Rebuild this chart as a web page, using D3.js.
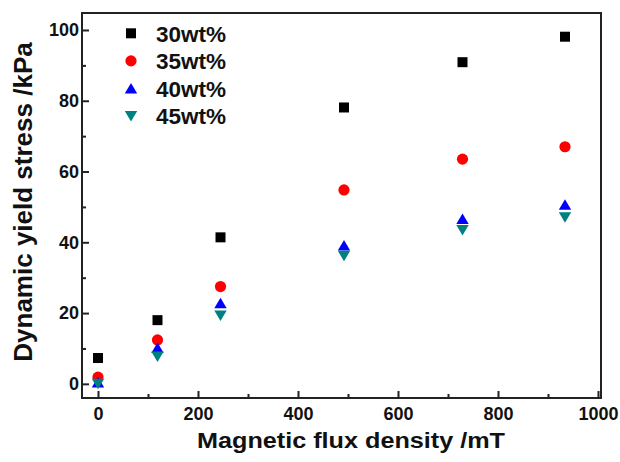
<!DOCTYPE html>
<html>
<head>
<meta charset="utf-8">
<script src="https://cdn.jsdelivr.net/npm/d3@7"></script>
<style>
  body { margin: 0; background: #fff; }
  svg { display: block; font-family: "Liberation Sans", Arial, sans-serif; font-weight: bold; }
</style>
</head>
<body>
<div id="chart"></div>
<script>
// field values (mT) and yield stress (kPa)
const fluxDensity = [0, 119, 245, 492, 729, 934];
const series30 = [7.3, 18.0, 41.4, 78.1, 90.9, 98.1];
const series35 = [1.9, 12.4, 27.5, 54.8, 63.5, 67.0];
const series40 = [0.4, 10.1, 22.8, 39.1, 46.6, 50.6];
const series45 = [0.0, 7.7, 19.3, 36.2, 43.5, 47.1];
const seriesNames = ["30wt%", "35wt%", "40wt%", "45wt%"];
const xTicks = [0, 200, 400, 600, 800, 1000];
const yTicks = [0, 20, 40, 60, 80, 100];

const width = 620, height = 462;
const frame = { left: 82, right: 601, top: 13, bottom: 398 };

const svg = d3.select("#chart").append("svg")
  .attr("width", width)
  .attr("height", height);

const x = d3.scaleLinear().domain([-32, 1006]).range([frame.left, frame.right]);
const y = d3.scaleLinear().domain([-4, 104.8]).range([frame.bottom, frame.top]);

// marker shapes, all centred on the point
const markers = {
  square: (g, c) => g.append("rect").attr("x", -5).attr("y", -5).attr("width", 10).attr("height", 10).attr("fill", c),
  circle: (g, c) => g.append("circle").attr("r", 5.6).attr("fill", c),
  up: (g, c) => g.append("path").attr("d", "M0,-5.5L6.2,5L-6.2,5Z").attr("fill", c),
  down: (g, c) => g.append("path").attr("d", "M0,5.5L6.2,-5L-6.2,-5Z").attr("fill", c),
};

const series = [
  { name: seriesNames[0], values: series30, shape: "square", color: "#000000" },
  { name: seriesNames[1], values: series35, shape: "circle", color: "#ff0000" },
  { name: seriesNames[2], values: series40, shape: "up", color: "#0000ff" },
  { name: seriesNames[3], values: series45, shape: "down", color: "#008080" },
];

// axes (ticks point inward)
svg.append("g")
  .attr("transform", "translate(0," + frame.bottom + ")")
  .call(d3.axisBottom(x).tickValues(xTicks).tickFormat(d3.format("d")).tickSize(-7).tickPadding(9))
  .call((g) => g.select(".domain").remove());
svg.append("g")
  .attr("transform", "translate(0," + frame.bottom + ")")
  .call(d3.axisBottom(x).tickValues(d3.range(100, 1000, 200)).tickSize(-4).tickFormat(""))
  .call((g) => g.select(".domain").remove());

svg.append("g")
  .attr("transform", "translate(" + frame.left + ",0)")
  .call(d3.axisLeft(y).tickValues(yTicks).tickFormat(d3.format("d")).tickSize(-7).tickPadding(3))
  .call((g) => g.select(".domain").remove());
svg.append("g")
  .attr("transform", "translate(" + frame.left + ",0)")
  .call(d3.axisLeft(y).tickValues(d3.range(10, 100, 20)).tickSize(-4).tickFormat(""))
  .call((g) => g.select(".domain").remove());

svg.selectAll(".tick line").attr("stroke", "#222").attr("stroke-width", 2);
svg.selectAll(".tick text")
  .attr("font-family", "Liberation Sans, Arial, sans-serif")
  .attr("font-weight", "bold")
  .attr("font-size", 18)
  .attr("fill", "#111");

svg.append("rect")
  .attr("x", frame.left)
  .attr("y", frame.top)
  .attr("width", frame.right - frame.left)
  .attr("height", frame.bottom - frame.top)
  .attr("fill", "none")
  .attr("stroke", "#222")
  .attr("stroke-width", 2);

// data points
series.forEach((s) => {
  s.values.forEach((v, i) => {
    const g = svg.append("g").attr("transform", "translate(" + x(fluxDensity[i]) + "," + y(v) + ")");
    markers[s.shape](g, s.color);
  });
});

// legend
series.forEach((s, i) => {
  const g = svg.append("g").attr("transform", "translate(131," + (33.3 + i * 27.6) + ")");
  markers[s.shape](g, s.color);
  g.append("text")
    .attr("x", 25)
    .attr("y", 8.3)
    .attr("font-size", 22.5)
    .attr("fill", "#111")
    .text(s.name);
});

// axis titles
svg.append("text")
  .attr("x", 351)
  .attr("y", 448)
  .attr("text-anchor", "middle")
  .attr("font-size", 22)
  .attr("textLength", 308)
  .attr("lengthAdjust", "spacingAndGlyphs")
  .attr("fill", "#111")
  .text("Magnetic flux density /mT");

svg.append("text")
  .attr("transform", "translate(32,202) rotate(-90)")
  .attr("text-anchor", "middle")
  .attr("font-size", 26)
  .attr("fill", "#111")
  .text("Dynamic yield stress /kPa");
</script>
</body>
</html>
